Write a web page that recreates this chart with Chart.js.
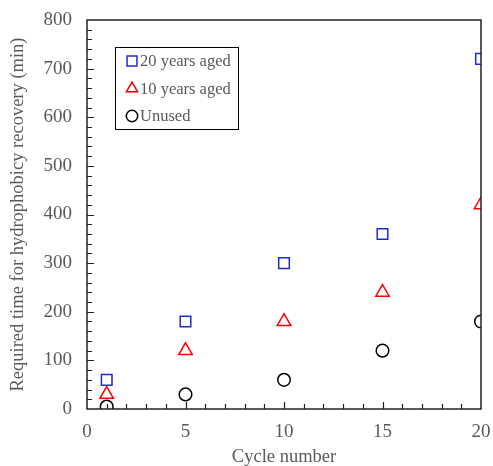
<!DOCTYPE html>
<html>
<head>
<meta charset="utf-8">
<script src="https://cdn.jsdelivr.net/npm/chart.js@4/dist/chart.umd.min.js"></script>
<style>
  html, body { margin: 0; padding: 0; background: #fff; }
  #wrap { width: 493px; height: 466px; }
</style>
</head>
<body>
<div id="wrap"><canvas id="recoveryChart"></canvas></div>
<script>
var cycles = [1, 5, 10, 15, 20];
var aged20 = [60, 180, 300, 360, 720];
var aged10 = [30, 120, 180, 240, 420];
var unused = [5, 30, 60, 120, 180];
var seriesNames = ['20 years aged', '10 years aged', 'Unused'];

function toPoints(ys) {
    return cycles.map(function (c, i) { return { x: c, y: ys[i] }; });
}

var textGrey = '#595959';
var serif = "'Liberation Serif', 'Times New Roman', serif";

// frame + inward ticks (major and minor) like the original plot
var framePlugin = {
    id: 'frame',
    afterDatasetsDraw: function (chart) {
        var ctx = chart.ctx, a = chart.chartArea;
        var xs = chart.scales.x, ys = chart.scales.y;
        ctx.save();
        ctx.strokeStyle = '#222';
        ctx.lineWidth = 1.5;
        ctx.strokeRect(a.left, a.top, a.right - a.left, a.bottom - a.top);
        ctx.beginPath();
        for (var v = 1; v < 20; v++) {
            var px = Math.round(xs.getPixelForValue(v)) + 0.5;
            var len = (v % 5 === 0) ? 7 : 5;
            ctx.moveTo(px, a.bottom);
            ctx.lineTo(px, a.bottom - len);
        }
        for (var w = 20; w < 800; w += 20) {
            var py = Math.round(ys.getPixelForValue(w)) + 0.5;
            var l2 = (w % 100 === 0) ? 7 : 5;
            ctx.moveTo(a.left, py);
            ctx.lineTo(a.left + l2, py);
        }
        ctx.lineWidth = 1.2;
        ctx.stroke();
        ctx.restore();
    }
};

// legend box inside the plot
var legendPlugin = {
    id: 'boxLegend',
    afterDraw: function (chart) {
        var ctx = chart.ctx;
        ctx.save();
        ctx.strokeStyle = '#000';
        ctx.lineWidth = 1;
        ctx.strokeRect(115.5, 47.5, 123, 82);
        ctx.font = '16.5px ' + serif;
        ctx.textBaseline = 'middle';
        chart.data.datasets.forEach(function (ds, i) {
            var cy = 61 + i * 27.5;
            ctx.strokeStyle = ds.borderColor;
            ctx.fillStyle = 'rgba(0,0,0,0)';
            ctx.lineWidth = 1.5;
            Chart.helpers.drawPoint(ctx, {
                pointStyle: ds.pointStyle,
                radius: ds.legendRadius,
                rotation: 0,
                borderWidth: 1.5
            }, 132, cy);
            ctx.fillStyle = textGrey;
            ctx.fillText(ds.label, 140, cy + 1);
        });
        ctx.restore();
    }
};

function noPad(s) {
    s.paddingLeft = 0; s.paddingRight = 0; s.paddingTop = 0; s.paddingBottom = 0;
}

new Chart(document.getElementById('recoveryChart').getContext('2d'), {
    type: 'scatter',
    data: {
        datasets: [
            {
                label: seriesNames[0], data: toPoints(aged20),
                pointStyle: 'rect', pointRadius: 7.5, legendRadius: 7,
                borderColor: '#1f2ad0', backgroundColor: 'rgba(0,0,0,0)', borderWidth: 1.5
            },
            {
                label: seriesNames[1], data: toPoints(aged10),
                pointStyle: 'triangle', pointRadius: 7.8, legendRadius: 6.5,
                borderColor: '#ff0000', backgroundColor: 'rgba(0,0,0,0)', borderWidth: 1.5
            },
            {
                label: seriesNames[2], data: toPoints(unused),
                pointStyle: 'circle', pointRadius: 6.3, legendRadius: 5.7,
                borderColor: '#000000', backgroundColor: 'rgba(0,0,0,0)', borderWidth: 1.5
            }
        ]
    },
    options: {
        responsive: true,
        maintainAspectRatio: false,
        animation: false,
        layout: { padding: { top: 20, right: 12, left: 0, bottom: 0 } },
        plugins: {
            legend: { display: false },
            tooltip: { enabled: false }
        },
        scales: {
            x: {
                type: 'linear', min: 0, max: 20,
                grid: { display: false, drawTicks: false },
                border: { display: false },
                ticks: { stepSize: 5, padding: 12, color: textGrey, font: { family: serif, size: 19 } },
                title: { display: true, text: 'Cycle number', color: textGrey, padding: { top: 0, bottom: -2 }, font: { family: serif, size: 18.5 } },
                afterFit: function (s) { s.height = 57; noPad(s); }
            },
            y: {
                type: 'linear', min: 0, max: 800,
                grid: { display: false, drawTicks: false },
                border: { display: false },
                ticks: { stepSize: 100, padding: 15, color: textGrey, font: { family: serif, size: 19 } },
                title: { display: true, text: 'Required time for hydrophobicy recovery (min)', color: textGrey, padding: { top: 7, bottom: 0 }, font: { family: serif, size: 18.5 } },
                afterFit: function (s) { s.width = 87; noPad(s); }
            }
        }
    },
    plugins: [framePlugin, legendPlugin]
});
</script>
</body>
</html>
